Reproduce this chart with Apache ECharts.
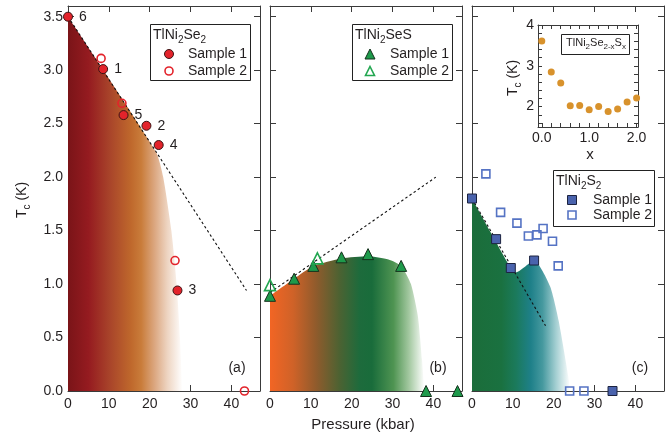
<!DOCTYPE html>
<html><head><meta charset="utf-8">
<script src="https://cdn.jsdelivr.net/npm/echarts@6/dist/echarts.min.js"></script>
<style>html,body{margin:0;padding:0;background:#fff}#c{width:670px;height:437px}</style>
</head><body><div id="c"></div>
<script>
// ---- Panel (a) TlNi2Se2 ----
const aS1 = [[0,3.50],[8.6,3.01],[13.6,2.58],[19.2,2.48],[22.2,2.30],[26.8,0.94]];
const aS1Labels = ['6','1','5','2','4','3'];
const aS2 = [[8.1,3.11],[13.2,2.69],[26.2,1.22],[43.2,0]];
const aDash = [[0,3.5],[43.7,0.94]];
const aArea = [[0,3.5],[21.5,2.24],[23.3,2.0],[25.3,1.5],[26.6,1.0],[27.4,0.5],[28.0,0]];
// ---- Panel (b) TlNi2SeS ----
const bS1 = [[0,0.89],[5.9,1.05],[10.6,1.17],[17.5,1.25],[24.0,1.28],[32.1,1.17],[38.2,0],[45.9,0]];
const bS2 = [[0,0.99],[11.6,1.24]];
const bDash = [[0,0.92],[40.6,2.0]];
const bArea = [[0,0.89],[5.9,1.05],[10.6,1.17],[17.5,1.24],[24,1.26],[29,1.23],[32.1,1.17],[34.5,1.0],[36.2,0.7],[37.2,0.3],[37.8,0]];
// ---- Panel (c) TlNi2S2 ----
const cS1 = [[0,1.80],[5.9,1.42],[9.5,1.15],[15.2,1.22],[34.4,0]];
const cS2 = [[3.4,2.03],[7.0,1.67],[11.0,1.57],[13.8,1.45],[15.9,1.46],[17.4,1.52],[19.7,1.40],[21.1,1.17],[23.9,0],[27.4,0]];
const cDash = [[0,1.80],[18.0,0.61]];
const cArea = [[0,1.80],[9.5,1.15],[10.8,1.11],[15.2,1.22],[19.1,0.98],[21.2,0.66],[23.6,0.13],[24.0,0]];
// ---- Inset TlNi2Se2-xSx ----
const insetX = [0,0.2,0.4,0.6,0.8,1.0,1.2,1.4,1.6,1.8,2.0];
const insetTc = [3.61,2.85,2.58,2.02,2.03,1.92,2.00,1.88,1.94,2.11,2.21];
const mainXLabels = [0,10,20,30,40];
const insetXLabels = [0,1,2];
const insetYLabels = [2,3,4];

const FONT = "'Liberation Sans', Arial, sans-serif";
const TXT = '#231f20';
const AX = '#3a3a3a';
const chart = echarts.init(document.getElementById('c'), null, {renderer:'canvas'});

function xAx(gi, pos, show){
  return {type:'value', gridIndex:gi, position:pos, min:0, max:47,
    axisLine:{show:true, onZero:false, lineStyle:{color:AX, width:1}},
    axisTick:{show:true, inside:true, length:6, customValues:mainXLabels, lineStyle:{color:AX}},
    axisLabel:{show:show, fontSize:14, fontFamily:FONT, color:TXT, margin:6, customValues:mainXLabels},
    splitLine:{show:false}};
}
function yAx(gi, pos, show){
  return {type:'value', gridIndex:gi, position:pos, min:0, max:3.6, interval:0.5,
    axisLine:{show:true, onZero:false, lineStyle:{color:AX, width:1}},
    axisTick:{show:true, inside:true, length:6, lineStyle:{color:AX}},
    axisLabel:{show:show, fontSize:14, fontFamily:FONT, color:TXT, margin:5, showMaxLabel:false, formatter:v=>v.toFixed(1)},
    splitLine:{show:false}};
}
const insetTicksX = [0,0.2,0.4,0.6,0.8,1.0,1.2,1.4,1.6,1.8,2.0];
const insetTicksY = [1.6,1.8,2.0,2.2,2.4,2.6,2.8,3.0,3.2,3.4,3.6,3.8,4.0];
function ixAx(pos, show){
  return {type:'value', gridIndex:3, position:pos, min:-0.08, max:2.03,
    axisLine:{show:true, onZero:false, lineStyle:{color:AX, width:1}},
    axisTick:{show:true, inside:true, length:4, customValues:insetTicksX, lineStyle:{color:AX}},
    axisLabel:{show:show, fontSize:14, fontFamily:FONT, color:TXT, margin:4, customValues:insetXLabels, formatter:v=>v.toFixed(1)},
    splitLine:{show:false}};
}
function iyAx(pos, show){
  return {type:'value', gridIndex:3, position:pos, min:1.5, max:4.0,
    axisLine:{show:true, onZero:false, lineStyle:{color:AX, width:1}},
    axisTick:{show:true, inside:true, length:4, customValues:insetTicksY, lineStyle:{color:AX}},
    axisLabel:{show:show, fontSize:14, fontFamily:FONT, color:TXT, margin:4, customValues:insetYLabels, formatter:v=>String(v)},
    splitLine:{show:false}};
}
const LG = echarts.graphic.LinearGradient;
function areaSeries(data, xi, yi, stops){
  return {type:'line', xAxisIndex:xi, yAxisIndex:yi, data:data, symbol:'none', smooth:0.2, z:1,
    lineStyle:{width:0, opacity:0}, areaStyle:{opacity:1, color:new LG(0,0,1,0,stops)}, silent:true};
}
function dashSeries(data, xi, yi){
  return {type:'line', xAxisIndex:xi, yAxisIndex:yi, data:data, symbol:'none', z:3,
    lineStyle:{color:'#111', width:1.1, type:[2.5,2.5]}, silent:true};
}
function scat(data, xi, yi, symbol, size, fill, border, bw, extra){
  return Object.assign({type:'scatter', xAxisIndex:xi, yAxisIndex:yi, data:data, symbol:symbol, symbolSize:size, clip:false, z:5,
    itemStyle:{color:fill, borderColor:border, borderWidth:bw, opacity:1}}, extra||{});
}
const RED='#e3232b', GREEN='#1e9a4b', GREENO='#22a650', BLUE='#4a63ad', BLUEO='#5573c4', GOLD='#d8922c';

const rich = {
  n:{fontSize:14, fontFamily:FONT, fill:TXT, verticalAlign:'top', lineHeight:16},
  s:{fontSize:10, fontFamily:FONT, fill:TXT, verticalAlign:'bottom', lineHeight:17}
};
const richSmall = {
  n:{fontSize:11, fontFamily:FONT, fill:TXT, verticalAlign:'top', lineHeight:13},
  s:{fontSize:8, fontFamily:FONT, fill:TXT, verticalAlign:'bottom', lineHeight:14}
};
function txt(x,y,text,opts){
  return Object.assign({type:'text', x:x, y:y, z:100, style:Object.assign({text:text, fontSize:14, fontFamily:FONT, fill:TXT}, opts||{})});
}
function legendBox(x,y,w,h){
  return {type:'rect', shape:{x:x,y:y,width:w,height:h}, z:90, style:{fill:'#fff', stroke:'#222', lineWidth:1}};
}
function tri(cx,cy,s,fill,stroke,lw){
  return {type:'polygon', z:100, shape:{points:[[cx,cy-s/2],[cx+s/2,cy+s/2],[cx-s/2,cy+s/2]]}, style:{fill:fill, stroke:stroke, lineWidth:lw}};
}

const option = {
  animation:false,
  backgroundColor:'#fff',
  grid:[
    {left:68, top:6, width:192, height:385},
    {left:270, top:6, width:192, height:385},
    {left:472, top:6, width:192, height:385},
    {left:538, top:25, width:100, height:102}
  ],
  xAxis:[xAx(0,'bottom',true), xAx(0,'top',false), xAx(1,'bottom',true), xAx(1,'top',false),
         xAx(2,'bottom',true), xAx(2,'top',false), ixAx('bottom',true), ixAx('top',false)],
  yAxis:[yAx(0,'left',true), yAx(0,'right',false), yAx(1,'left',false), yAx(1,'right',false),
         yAx(2,'left',false), yAx(2,'right',false), iyAx('left',true), iyAx('right',false)],
  series:[
    areaSeries(aArea,0,0,[{offset:0,color:'#7a1418'},{offset:0.18,color:'#951b20'},{offset:0.36,color:'#a8432a'},{offset:0.55,color:'#bf682c'},{offset:0.64,color:'#c97c3a'},{offset:0.76,color:'#dca882'},{offset:0.87,color:'#eed5c2'},{offset:1,color:'#ffffff'}]),
    areaSeries(bArea,2,2,[{offset:0,color:'#f26524'},{offset:0.15,color:'#cf6228'},{offset:0.3,color:'#8f5b2c'},{offset:0.45,color:'#4c6232'},{offset:0.58,color:'#1d6b3c'},{offset:0.66,color:'#196c3b'},{offset:0.8,color:'#4f9452'},{offset:0.9,color:'#a3c8a0'},{offset:1,color:'#ffffff'}]),
    areaSeries(cArea,4,4,[{offset:0,color:'#1b6d3a'},{offset:0.3,color:'#1a7140'},{offset:0.45,color:'#1b7a5c'},{offset:0.6,color:'#1e8089'},{offset:0.72,color:'#46999f'},{offset:0.86,color:'#a6d0d3'},{offset:1,color:'#ffffff'}]),
    dashSeries(aDash,0,0), dashSeries(bDash,2,2), dashSeries(cDash,4,4),
    scat(aS1,0,0,'circle',9,RED,'#3a1414',1,{label:{show:true, position:'right', distance:6, fontSize:14, fontFamily:FONT, color:TXT, formatter:p=>aS1Labels[p.dataIndex]}}),
    scat(aS2,0,0,'circle',8,'rgba(255,255,255,0)',RED,1.6),
    scat(bS1,2,2,'triangle',11,GREEN,'#15301c',1),
    scat(bS2,2,2,'triangle',11,'rgba(255,255,255,0)',GREENO,1.6),
    scat(cS1,4,4,'rect',9,BLUE,'#1c2340',1),
    scat(cS2,4,4,'rect',8,'rgba(255,255,255,0)',BLUEO,1.6),
    scat(insetX.map((x,i)=>[x,insetTc[i]]),6,6,'circle',7,GOLD,GOLD,0)
  ],
  graphic:[
    {type:'text', x:24, y:200, rotation:Math.PI/2, z:100, style:{text:'{n|T}{s|c}{n| (K)}', rich:rich, align:'center', verticalAlign:'middle', fontSize:14, fontFamily:FONT, fill:TXT}},
    txt(363,425,'Pressure (kbar)',{fontSize:15, align:'center', verticalAlign:'middle'}),
    txt(237,368,'(a)',{align:'center', verticalAlign:'middle'}),
    txt(438,368,'(b)',{align:'center', verticalAlign:'middle'}),
    txt(640,368,'(c)',{align:'center', verticalAlign:'middle'}),
    legendBox(150.5,24.5,100,56),
    {type:'text', x:153, y:28, z:100, style:{text:'{n|TlNi}{s|2}{n|Se}{s|2}', rich:rich, fontSize:14, fontFamily:FONT, fill:TXT}},
    {type:'circle', z:100, shape:{cx:169,cy:54,r:4.5}, style:{fill:RED, stroke:'#3a1414', lineWidth:1}},
    txt(188,54,'Sample 1',{verticalAlign:'middle'}),
    {type:'circle', z:100, shape:{cx:169,cy:71,r:4}, style:{fill:'#fff', stroke:RED, lineWidth:1.6}},
    txt(188,71,'Sample 2',{verticalAlign:'middle'}),
    legendBox(352.5,24.5,100,56),
    {type:'text', x:355, y:28, z:100, style:{text:'{n|TlNi}{s|2}{n|SeS}', rich:rich, fontSize:14, fontFamily:FONT, fill:TXT}},
    tri(370,54,10,GREEN,'#15301c',1),
    txt(390,54,'Sample 1',{verticalAlign:'middle'}),
    tri(370,71,9,'#fff',GREENO,1.6),
    txt(390,71,'Sample 2',{verticalAlign:'middle'}),
    legendBox(553.5,170.5,101,56),
    {type:'text', x:556, y:174, z:100, style:{text:'{n|TlNi}{s|2}{n|S}{s|2}', rich:rich, fontSize:14, fontFamily:FONT, fill:TXT}},
    {type:'rect', z:100, shape:{x:567.5,y:195.5,width:9,height:9}, style:{fill:BLUE, stroke:'#1c2340', lineWidth:1}},
    txt(593,200,'Sample 1',{verticalAlign:'middle'}),
    {type:'rect', z:100, shape:{x:568,y:211,width:8,height:8}, style:{fill:'#fff', stroke:BLUEO, lineWidth:1.6}},
    txt(593,215,'Sample 2',{verticalAlign:'middle'}),
    legendBox(561.5,34.5,68,20),
    {type:'text', x:596, y:44, z:100, style:{text:'{n|TlNi}{s|2}{n|Se}{s|2-x}{n|S}{s|x}', rich:richSmall, align:'center', verticalAlign:'middle', fontSize:11, fontFamily:FONT, fill:TXT}},
    {type:'text', x:515, y:78, rotation:Math.PI/2, z:100, style:{text:'{n|T}{s|c}{n| (K)}', rich:rich, align:'center', verticalAlign:'middle', fontSize:14, fontFamily:FONT, fill:TXT}},
    txt(590,155,'x',{fontSize:15, align:'center', verticalAlign:'middle'})
  ]
};
chart.setOption(option);
</script>
</body></html>
